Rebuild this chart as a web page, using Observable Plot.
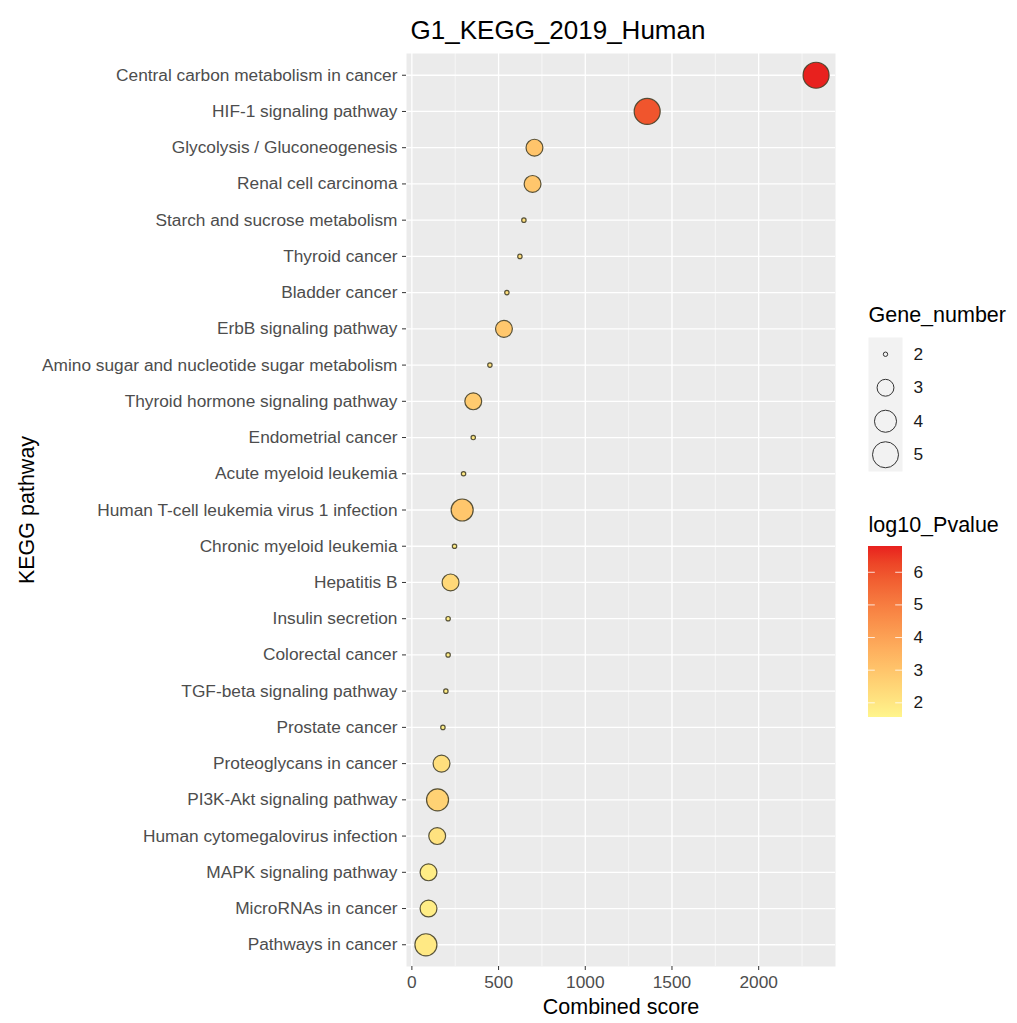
<!DOCTYPE html>
<html>
<head>
<meta charset="utf-8">
<script src="https://cdn.jsdelivr.net/npm/d3@7"></script>
<script src="https://cdn.jsdelivr.net/npm/@observablehq/plot@0.6"></script>
<style>
  html, body { margin: 0; padding: 0; background: white; }
  #wrap { position: relative; width: 1017px; height: 1023px; overflow: hidden; font-family: "Liberation Sans", Arial, sans-serif; }
  #wrap > div.part { position: absolute; line-height: 0; }
</style>
</head>
<body>
<div id="wrap">
  <div class="part" id="main" style="left:0;top:0"></div>
  <div class="part" id="sizeLegend" style="left:850px;top:295px"></div>
  <div class="part" id="colorLegend" style="left:850px;top:500px"></div>
</div>
<svg width="0" height="0" style="position:absolute;left:0;top:0">
  <defs><linearGradient id="pgrad" x1="0" y1="1" x2="0" y2="0"></linearGradient></defs>
</svg>
<script>
// ---- data ----
const pathways = [
  "Central carbon metabolism in cancer",
  "HIF-1 signaling pathway",
  "Glycolysis / Gluconeogenesis",
  "Renal cell carcinoma",
  "Starch and sucrose metabolism",
  "Thyroid cancer",
  "Bladder cancer",
  "ErbB signaling pathway",
  "Amino sugar and nucleotide sugar metabolism",
  "Thyroid hormone signaling pathway",
  "Endometrial cancer",
  "Acute myeloid leukemia",
  "Human T-cell leukemia virus 1 infection",
  "Chronic myeloid leukemia",
  "Hepatitis B",
  "Insulin secretion",
  "Colorectal cancer",
  "TGF-beta signaling pathway",
  "Prostate cancer",
  "Proteoglycans in cancer",
  "PI3K-Akt signaling pathway",
  "Human cytomegalovirus infection",
  "MAPK signaling pathway",
  "MicroRNAs in cancer",
  "Pathways in cancer"
];
const combinedScore = [2331, 1357, 707, 696, 646, 623, 548, 531, 450, 354, 354, 298, 290, 246, 223, 209, 209, 196, 179, 171, 148, 146, 96, 96, 81];
const geneNumber    = [5, 5, 3, 3, 2, 2, 2, 3, 2, 3, 2, 2, 4, 2, 3, 2, 2, 2, 2, 3, 4, 3, 3, 3, 4];
const log10Pvalue   = [6.79, 5.95, 3.0, 2.95, 2.2, 2.2, 2.2, 2.9, 2.1, 2.8, 1.9, 1.9, 2.95, 1.8, 2.4, 1.8, 1.8, 1.8, 1.7, 2.2, 2.6, 2.1, 1.8, 1.8, 1.9];

const xTicks = [0, 500, 1000, 1500, 2000];
const xMinorTicks = [250, 750, 1250, 1750, 2250];
const geneBreaks = [2, 3, 4, 5];
const pBreaks = [2, 3, 4, 5, 6];
const pRange = [1.55, 6.79];

const data = pathways.map((p, i) => ({
  pathway: p, score: combinedScore[i], genes: geneNumber[i], logp: log10Pvalue[i]
}));

// ---- shared scale settings ----
const FONT = "Liberation Sans, Arial, sans-serif";
const TICK_FS = 17.3, TITLE_FS = 21.5;
const colorLow = "#FFF58C", colorHigh = "#E8211E";
const colorScale = {type: "linear", domain: pRange, range: [colorLow, colorHigh], interpolate: "lab"};
const rScale = {type: "sqrt", domain: [0, 3], range: [2.2, 13]};
const rOf = v => v - geneBreaks[0];
const dotStroke = "#46412a";

// ---- main panel ----
const main = Plot.plot({
  width: 1017, height: 1023,
  marginLeft: 406, marginRight: 182, marginTop: 53, marginBottom: 57,
  style: {fontFamily: FONT, fontSize: TICK_FS + "px", background: "white", color: "#4D4D4D"},
  x: {domain: [-31, 2443], label: null},
  y: {type: "point", domain: pathways, padding: 0.6, round: false, label: null},
  r: rScale,
  color: colorScale,
  marks: [
    Plot.frame({fill: "#EBEBEB", stroke: null}),
    Plot.gridX(xMinorTicks, {stroke: "white", strokeOpacity: 1, strokeWidth: 0.6}),
    Plot.gridX(xTicks, {stroke: "white", strokeOpacity: 1, strokeWidth: 1.3}),
    Plot.gridY(pathways, {stroke: "white", strokeOpacity: 1, strokeWidth: 1.3}),
    Plot.dot(data, {x: "score", y: "pathway", r: d => rOf(d.genes), fill: "logp",
      stroke: dotStroke, strokeWidth: 1.2, strokeOpacity: 0.9, sort: null}),
    Plot.axisX(xTicks, {tickSize: 4, tickPadding: 5, stroke: "#333", fill: "#4D4D4D", fontSize: TICK_FS, tickFormat: d3.format("d"), label: null}),
    Plot.axisY(pathways, {tickSize: 4, tickPadding: 5, stroke: "#333", fill: "#4D4D4D", fontSize: TICK_FS, label: null}),
    Plot.text(["Combined score"], {frameAnchor: "bottom", lineAnchor: "middle", dy: 41, fontSize: TITLE_FS, fill: "black"}),
    Plot.text(["KEGG pathway"], {frameAnchor: "left", textAnchor: "middle", lineAnchor: "middle", dx: -379, rotate: -90, fontSize: TITLE_FS, fill: "black"}),
    Plot.text(["G1_KEGG_2019_Human"], {frameAnchor: "top", lineAnchor: "middle", dx: -63, dy: -23, fontSize: 26, fill: "black"})
  ]
});
document.getElementById("main").appendChild(main);

// ---- size legend ----
const sizeLegend = Plot.plot({
  width: 167, height: 185,
  marginLeft: 18, marginRight: 115, marginTop: 42, marginBottom: 9,
  style: {fontFamily: FONT, fontSize: TICK_FS + "px", background: "transparent", overflow: "visible"},
  x: {axis: null, domain: [0, 1]},
  y: {type: "point", domain: geneBreaks, padding: 0.5, round: false, axis: null},
  r: rScale,
  marks: [
    Plot.frame({fill: "#F2F2F2", stroke: null}),
    Plot.dot(geneBreaks, {y: d => d, r: d => rOf(d), fill: "none", stroke: "#333", strokeWidth: 1}),
    Plot.text(geneBreaks, {y: d => d, text: d => String(d), frameAnchor: "right", textAnchor: "start", lineAnchor: "middle", dx: 11, fill: "#1a1a1a", fontSize: TICK_FS}),
    Plot.text(["Gene_number"], {frameAnchor: "top-left", textAnchor: "start", lineAnchor: "middle", dy: -22, fill: "black", fontSize: TITLE_FS})
  ]
});
document.getElementById("sizeLegend").appendChild(sizeLegend);

// ---- colour bar legend ----
const interp = d3.scaleLinear().domain(pRange).range([colorLow, colorHigh]).interpolate(d3.interpolateLab);
const grad = document.getElementById("pgrad");
[0, 0.1, 0.2, 0.3, 0.4, 0.5, 0.6, 0.7, 0.8, 0.9, 1].forEach(t => {
  const s = document.createElementNS("http://www.w3.org/2000/svg", "stop");
  s.setAttribute("offset", t);
  s.setAttribute("stop-color", interp(pRange[0] + t * (pRange[1] - pRange[0])));
  grad.appendChild(s);
});
const colorLegend = Plot.plot({
  width: 167, height: 230,
  marginLeft: 18, marginRight: 115, marginTop: 46, marginBottom: 13,
  style: {fontFamily: FONT, fontSize: TICK_FS + "px", background: "transparent", overflow: "visible"},
  x: {axis: null, domain: [0, 1]},
  y: {domain: pRange, axis: null},
  marks: [
    Plot.rect([pRange], {x1: 0, x2: 1, y1: d => d[0], y2: d => d[1], fill: "url(#pgrad)"}),
    Plot.ruleY(pBreaks, {x1: 0, x2: 0.2, stroke: "white", strokeOpacity: 0.8, strokeWidth: 1}),
    Plot.ruleY(pBreaks, {x1: 0.8, x2: 1, stroke: "white", strokeOpacity: 0.8, strokeWidth: 1}),
    Plot.text(pBreaks, {y: d => d, text: d => String(d), frameAnchor: "right", textAnchor: "start", lineAnchor: "middle", dx: 11, fill: "#1a1a1a", fontSize: TICK_FS}),
    Plot.text(["log10_Pvalue"], {frameAnchor: "top-left", textAnchor: "start", lineAnchor: "middle", dy: -21, fill: "black", fontSize: TITLE_FS})
  ]
});
document.getElementById("colorLegend").appendChild(colorLegend);
</script>
</body>
</html>
